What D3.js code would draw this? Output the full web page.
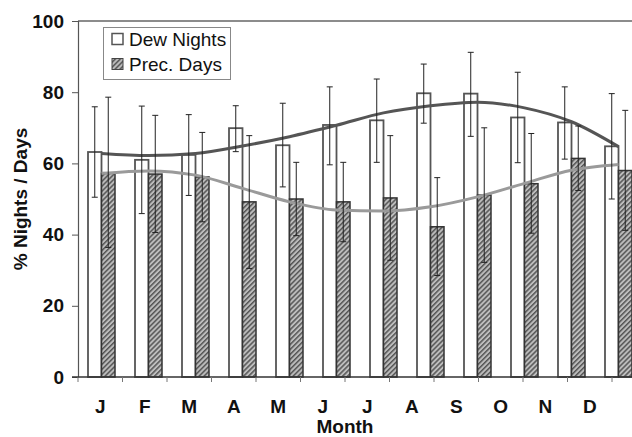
<!DOCTYPE html>
<html>
<head>
<meta charset="utf-8">
<script src="https://cdn.jsdelivr.net/npm/d3@7"></script>
<style>
body { margin: 0; background: #fff; }
svg { display: block; font-family: Arial, "Liberation Sans", sans-serif; }
</style>
</head>
<body>
<svg></svg>
<script>
var months = ["J", "F", "M", "A", "M", "J", "J", "A", "S", "O", "N", "D"];
var dewNights = [63.2, 61.0, 62.4, 69.9, 65.1, 70.8, 72.1, 79.7, 79.6, 72.9, 71.5, 64.8];
var dewHigh   = [75.9, 76.1, 73.7, 76.2, 76.9, 81.5, 83.7, 87.9, 91.2, 85.6, 81.5, 79.6];
var dewLow    = [50.5, 45.9, 51.0, 63.3, 53.4, 59.6, 60.3, 71.3, 67.6, 60.2, 61.2, 50.0];
var precDays  = [57.2, 57.0, 56.2, 49.2, 50.0, 49.2, 50.3, 42.2, 51.1, 54.3, 61.4, 58.0];
var precHigh  = [78.6, 73.5, 68.7, 67.8, 60.3, 60.3, 67.8, 56.0, 70.0, 68.4, 70.5, 74.9];
var precLow   = [36.4, 40.6, 43.6, 30.5, 39.7, 38.0, 32.8, 28.5, 32.2, 40.4, 52.4, 41.2];
var dewTrend  = [62.8, 62.2, 62.8, 64.9, 67.5, 70.7, 74.2, 76.2, 77.2, 75.6, 71.7, 64.7];
var precTrend = [57.2, 57.9, 56.7, 53.0, 49.2, 46.9, 46.6, 47.8, 50.6, 54.4, 58.1, 59.7];
var yTicks = [0, 20, 40, 60, 80, 100];

var svg = d3.select("svg")
    .attr("width", 632)
    .attr("height", 437);

var idx = d3.range(months.length);

var y = d3.scaleLinear()
    .domain([0, 100])
    .range([377, 21]);

// bars sit on their own (slightly wider) category scale
var xBar = d3.scaleBand()
    .domain(idx)
    .range([78, 642])
    .paddingInner(0.4255)
    .paddingOuter(0.2128);

var xSub = d3.scaleBand()
    .domain(["dew", "prec"])
    .range([0, xBar.bandwidth()]);

// month labels scale
var xAx = d3.scaleBand()
    .domain(idx)
    .range([78, 612]);

var defs = svg.append("defs");
var pat = defs.append("pattern")
    .attr("id", "hatch")
    .attr("patternUnits", "userSpaceOnUse")
    .attr("width", 3.5)
    .attr("height", 3.5)
    .attr("patternTransform", "rotate(45)");
pat.append("rect")
    .attr("width", 3.5)
    .attr("height", 3.5)
    .attr("fill", "#bdbdbd");
pat.append("rect")
    .attr("width", 1.5)
    .attr("height", 3.5)
    .attr("fill", "#555");

// frame top
svg.append("line")
    .attr("x1", 78).attr("x2", 632)
    .attr("y1", y(100)).attr("y2", y(100))
    .attr("stroke", "#666")
    .attr("stroke-width", 1.5);

// y axis
var yAxis = svg.append("g")
    .attr("transform", "translate(78,0)")
    .call(d3.axisLeft(y).tickValues(yTicks).tickSize(6).tickPadding(8));
yAxis.select(".domain").attr("stroke", "#555").attr("stroke-width", 1.2);
yAxis.selectAll(".tick line").attr("stroke", "#555");
yAxis.selectAll("text")
    .attr("font-size", 19)
    .attr("font-weight", "bold")
    .attr("font-family", "Arial, 'Liberation Sans', sans-serif")
    .attr("fill", "#111");

// bars
svg.append("g").selectAll("rect")
    .data(idx)
    .join("rect")
    .attr("x", d => xBar(d) + xSub("dew"))
    .attr("y", d => y(dewNights[d]))
    .attr("width", xSub.bandwidth())
    .attr("height", d => y(0) - y(dewNights[d]))
    .attr("fill", "#fff")
    .attr("stroke", "#555")
    .attr("stroke-width", 1.8);

svg.append("g").selectAll("rect")
    .data(idx)
    .join("rect")
    .attr("x", d => xBar(d) + xSub("prec"))
    .attr("y", d => y(precDays[d]))
    .attr("width", xSub.bandwidth())
    .attr("height", d => y(0) - y(precDays[d]))
    .attr("fill", "url(#hatch)")
    .attr("stroke", "#333")
    .attr("stroke-width", 1.5);

// x axis
var xAxis = svg.append("g")
    .attr("transform", "translate(0,377)")
    .call(d3.axisBottom(xAx).tickFormat(d => months[d]).tickSize(0).tickPadding(23));
xAxis.select(".domain").remove();
xAxis.selectAll("text")
    .attr("font-size", 19)
    .attr("font-weight", "bold")
    .attr("font-family", "Arial, 'Liberation Sans', sans-serif")
    .attr("fill", "#111");

svg.append("line")
    .attr("x1", 72).attr("x2", 632)
    .attr("y1", 377).attr("y2", 377)
    .attr("stroke", "#333")
    .attr("stroke-width", 1.5);

svg.append("g").selectAll("line")
    .data(d3.range(13))
    .join("line")
    .attr("x1", d => 78 + d * xAx.step())
    .attr("x2", d => 78 + d * xAx.step())
    .attr("y1", 377)
    .attr("y2", 382)
    .attr("stroke", "#777");

// trend lines
var line = function(vals) {
    return d3.line()
        .x(d => xBar(d) + xBar.bandwidth() / 2)
        .y(d => y(vals[d]))
        .curve(d3.curveMonotoneX)(idx);
};

svg.append("path")
    .attr("d", line(precTrend))
    .attr("fill", "none")
    .attr("stroke", "#9a9a9a")
    .attr("stroke-width", 3);

svg.append("path")
    .attr("d", line(dewTrend))
    .attr("fill", "none")
    .attr("stroke", "#555")
    .attr("stroke-width", 3);

// error bars
function errorBars(key, hi, lo) {
    var g = svg.append("g").attr("stroke", "#222").attr("stroke-width", 1);
    var cx = d => xBar(d) + xSub(key) + xSub.bandwidth() / 2;
    g.selectAll(".v").data(idx).join("line")
        .attr("x1", cx).attr("x2", cx)
        .attr("y1", d => y(hi[d])).attr("y2", d => y(lo[d]));
    g.selectAll(".t").data(idx).join("line")
        .attr("x1", d => cx(d) - 3).attr("x2", d => cx(d) + 3)
        .attr("y1", d => y(hi[d])).attr("y2", d => y(hi[d]));
    g.selectAll(".b").data(idx).join("line")
        .attr("x1", d => cx(d) - 3).attr("x2", d => cx(d) + 3)
        .attr("y1", d => y(lo[d])).attr("y2", d => y(lo[d]));
}
errorBars("dew", dewHigh, dewLow);
errorBars("prec", precHigh, precLow);

// axis titles
svg.append("text")
    .attr("transform", "translate(27," + (y(50)) + ") rotate(-90)")
    .attr("text-anchor", "middle")
    .attr("font-size", 19)
    .attr("font-weight", "bold")
    .attr("fill", "#111")
    .text("% Nights / Days");

svg.append("text")
    .attr("x", 345)
    .attr("y", 433)
    .attr("text-anchor", "middle")
    .attr("font-size", 19)
    .attr("font-weight", "bold")
    .attr("fill", "#111")
    .text("Month");

// legend
var legend = svg.append("g");
legend.append("rect")
    .attr("x", 103.5).attr("y", 27.5)
    .attr("width", 127).attr("height", 52)
    .attr("fill", "#fff")
    .attr("stroke", "#888")
    .attr("stroke-width", 1);
legend.append("rect")
    .attr("x", 112).attr("y", 33.5)
    .attr("width", 11).attr("height", 11)
    .attr("fill", "#fff")
    .attr("stroke", "#555")
    .attr("stroke-width", 1.5);
legend.append("rect")
    .attr("x", 112).attr("y", 58.5)
    .attr("width", 11).attr("height", 11)
    .attr("fill", "url(#hatch)")
    .attr("stroke", "#444")
    .attr("stroke-width", 1);
legend.append("text")
    .attr("x", 129).attr("y", 46)
    .attr("font-size", 19)
    .attr("fill", "#111")
    .text("Dew Nights");
legend.append("text")
    .attr("x", 129).attr("y", 71)
    .attr("font-size", 19)
    .attr("fill", "#111")
    .text("Prec. Days");
</script>
</body>
</html>
